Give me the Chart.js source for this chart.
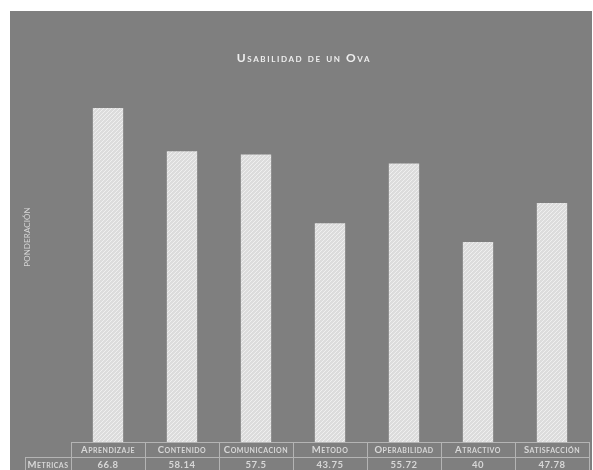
<!DOCTYPE html>
<html>
<head>
<meta charset="utf-8">
<script src="https://cdn.jsdelivr.net/npm/chart.js@4/dist/chart.umd.min.js"></script>
<style>
  html, body { margin: 0; padding: 0; background: #ffffff; }
  #wrap { width: 593px; height: 470px; }
</style>
</head>
<body>
<div id="wrap"><canvas id="barChart" width="593" height="470"></canvas></div>
<script>
var categorias = ["Aprendizaje", "Contenido", "Comunicacion", "Metodo", "Operabilidad", "Atractivo", "Satisfacción"];
var metricas = [66.8, 58.14, 57.5, 43.75, 55.72, 40, 47.78];
var tituloGrafico = "Usabilidad de un Ova";
var tituloEje = "Ponderación";
var nombreFila = "Metricas";

// diagonal hatch used as the bar fill
function makeHatch() {
    var tile = document.createElement("canvas");
    tile.width = 4;
    tile.height = 4;
    var t = tile.getContext("2d");
    t.fillStyle = "#dcdcdc";
    t.fillRect(0, 0, 4, 4);
    t.strokeStyle = "#efefef";
    t.lineWidth = 1;
    t.beginPath();
    t.moveTo(0, 4); t.lineTo(4, 0);
    t.moveTo(-1, 1); t.lineTo(1, -1);
    t.moveTo(3, 5); t.lineTo(5, 3);
    t.stroke();
    return t.createPattern(tile, "repeat");
}

function smallCaps(ctx, size, weight) {
    ctx.font = "small-caps " + (weight || "normal") + " " + size + "px Lato, 'Open Sans', sans-serif";
    if ("fontVariantCaps" in ctx) ctx.fontVariantCaps = "small-caps";
}

var fondoPanel = {
    id: "fondoPanel",
    beforeDraw: function(chart) {
        var ctx = chart.ctx;
        ctx.save();
        ctx.fillStyle = "#7f7f7f";
        ctx.fillRect(10, 11, 582, 459);
        ctx.restore();
    }
};

var tablaMetricas = {
    id: "tablaMetricas",
    afterDraw: function(chart) {
        var ctx = chart.ctx;
        var x = chart.scales.x;
        var area = chart.chartArea;
        var paso = x.getPixelForValue(1) - x.getPixelForValue(0);
        var izq = x.getPixelForValue(0) - paso / 2;
        var der = x.getPixelForValue(categorias.length - 1) + paso / 2;
        var y0 = area.bottom;
        var y1 = y0 + 15;
        var y2 = 475;
        ctx.save();

        // title
        ctx.fillStyle = "#efefef";
        ctx.textAlign = "center";
        ctx.textBaseline = "middle";
        smallCaps(ctx, 12, "bold");
        if ("letterSpacing" in ctx) ctx.letterSpacing = "1.6px";
        ctx.fillText(tituloGrafico, 304, 58);

        // vertical axis name
        ctx.save();
        ctx.translate(27, 237);
        ctx.rotate(-Math.PI / 2);
        smallCaps(ctx, 8);
        if ("letterSpacing" in ctx) ctx.letterSpacing = "0.1px";
        ctx.fillStyle = "#d6d6d6";
        ctx.fillText(tituloEje.toUpperCase(), 0, 0);
        ctx.restore();

        // grid of the table
        ctx.strokeStyle = "#b4b4b4";
        ctx.lineWidth = 1;
        ctx.beginPath();
        ctx.moveTo(izq, y0 + 0.5); ctx.lineTo(der, y0 + 0.5);
        ctx.moveTo(25, y1 + 0.5); ctx.lineTo(der, y1 + 0.5);
        ctx.moveTo(25.5, y1); ctx.lineTo(25.5, y2);
        for (var i = 0; i <= categorias.length; i++) {
            var cx = Math.round(izq + i * paso) + 0.5;
            ctx.moveTo(cx, y0); ctx.lineTo(cx, y2);
        }
        ctx.stroke();

        // header and values
        if ("letterSpacing" in ctx) ctx.letterSpacing = "0.5px";
        ctx.fillStyle = "#d8d8d8";
        categorias.forEach(function(cat, i) {
            var cx = x.getPixelForValue(i);
            smallCaps(ctx, 9.5, "bold");
            ctx.fillText(cat, cx, y0 + 8);
            ctx.font = "bold 9.5px Lato, 'Open Sans', sans-serif";
            if ("fontVariantCaps" in ctx) ctx.fontVariantCaps = "normal";
            ctx.fillText(String(metricas[i]), cx, y1 + 8);
        });
        smallCaps(ctx, 9.5, "bold");
        ctx.fillText(nombreFila, (25 + izq) / 2, y1 + 8);
        ctx.restore();
    }
};

function makeBarChart() {
    var ctx = document.getElementById("barChart").getContext("2d");
    var chart = new Chart(ctx, {
        type: "bar",
        data: {
            labels: categorias,
            datasets: [{
                data: metricas,
                backgroundColor: makeHatch(),
                borderWidth: 0,
                categoryPercentage: 1,
                barPercentage: 0.41
            }]
        },
        options: {
            responsive: false,
            animation: false,
            layout: { padding: { left: 71, right: 4, top: 92, bottom: 28 } },
            plugins: {
                legend: { display: false },
                tooltip: { enabled: false }
            },
            scales: {
                x: { display: false },
                y: { display: false, min: 0, max: 70 }
            }
        },
        plugins: [fondoPanel, tablaMetricas]
    });
    return chart;
}

makeBarChart();
</script>
</body>
</html>
